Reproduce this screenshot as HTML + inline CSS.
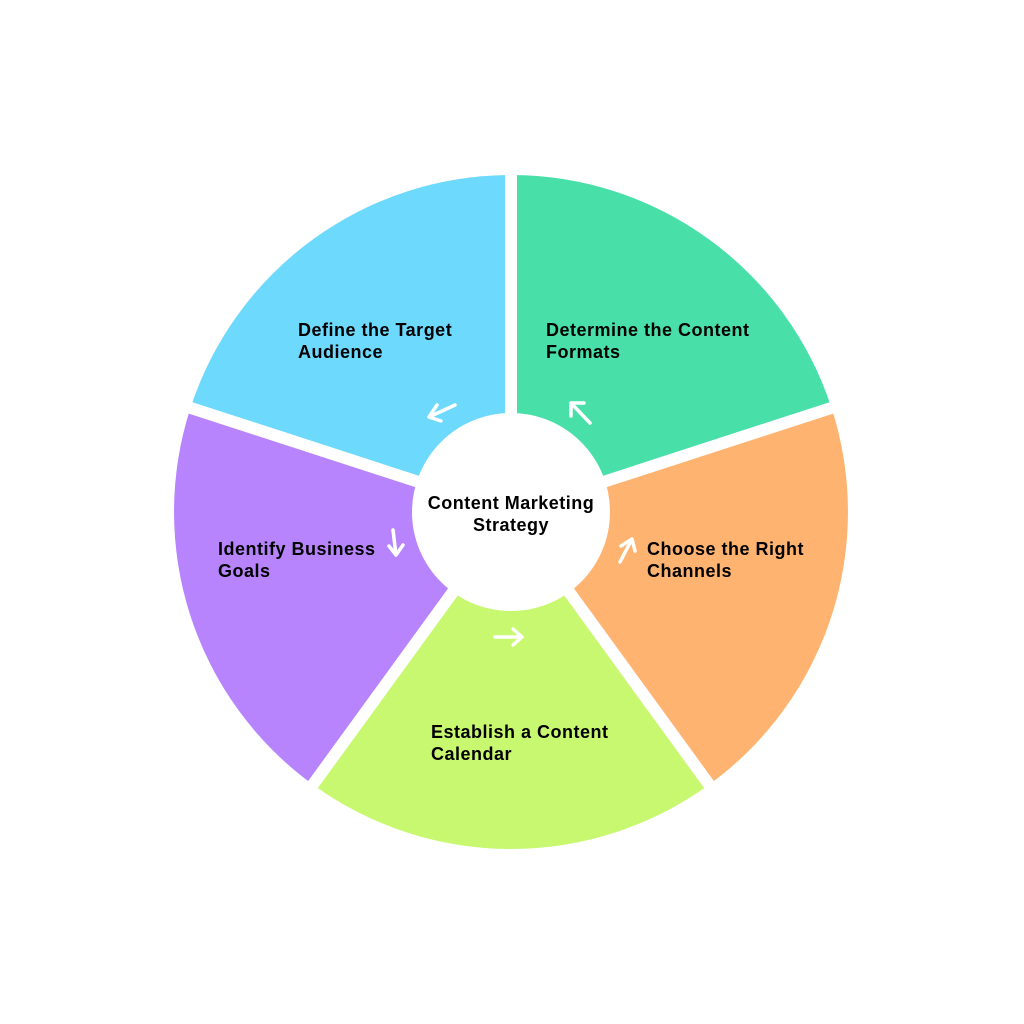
<!DOCTYPE html>
<html><head><style>html,body{margin:0;background:#fff}svg{display:block}</style></head>
<body>
<svg width="1024" height="1024" viewBox="0 0 1024 1024" xmlns="http://www.w3.org/2000/svg">
<g transform="translate(511,512)">
<path d="M0,0 L0,-337 A337,337 0 0 1 320.5,-104.1 Z" fill="#48e0a8"/>
<path d="M0,0 L320.5,-104.1 A337,337 0 0 1 198.1,272.6 Z" fill="#ffb370"/>
<path d="M0,0 L198.1,272.6 A337,337 0 0 1 -198.1,272.6 Z" fill="#c8f870"/>
<path d="M0,0 L-198.1,272.6 A337,337 0 0 1 -320.5,-104.1 Z" fill="#b784fe"/>
<path d="M0,0 L-320.5,-104.1 A337,337 0 0 1 0,-337 Z" fill="#6dd9fd"/>
<g stroke="#fff" stroke-width="12">
<line x1="0" y1="0" x2="0" y2="-345"/>
<line x1="0" y1="0" x2="328" y2="-106.6"/>
<line x1="0" y1="0" x2="202.8" y2="279.1"/>
<line x1="0" y1="0" x2="-202.8" y2="279.1"/>
<line x1="0" y1="0" x2="-328" y2="-106.6"/>
</g>
<circle cx="0" cy="0" r="99" fill="#fff"/>
</g>
<g stroke="#fff" stroke-width="3.5" fill="none" stroke-linecap="round" stroke-linejoin="round">
<path d="M455,405 L429,417 M429,417 L437,405 M429,417 L441,421"/>
<path d="M590,423 L571,403 M571,403 L571,416 M571,403 L584,403"/>
<path d="M620,562 L632,539 M632,539 L621,546 M632,539 L635,551"/>
<path d="M495,637 L522,637 M522,637 L513,629 M522,637 L513,645"/>
<path d="M393,530 L396,555 M396,555 L389,546 M396,555 L403,545"/>
</g>
<g font-family="Liberation Sans, sans-serif" font-weight="bold" font-size="18" letter-spacing="0.5" fill="#000">
<text x="298" y="336">Define the Target</text>
<text x="298" y="358">Audience</text>
<text x="546" y="336">Determine the Content</text>
<text x="546" y="358">Formats</text>
<text x="647" y="555">Choose the Right</text>
<text x="647" y="577">Channels</text>
<text x="431" y="738">Establish a Content</text>
<text x="431" y="760">Calendar</text>
<text x="218" y="555">Identify Business</text>
<text x="218" y="577">Goals</text>
<text x="511" y="509" text-anchor="middle">Content Marketing</text>
<text x="511" y="531" text-anchor="middle">Strategy</text>
</g>
</svg>
</body></html>
